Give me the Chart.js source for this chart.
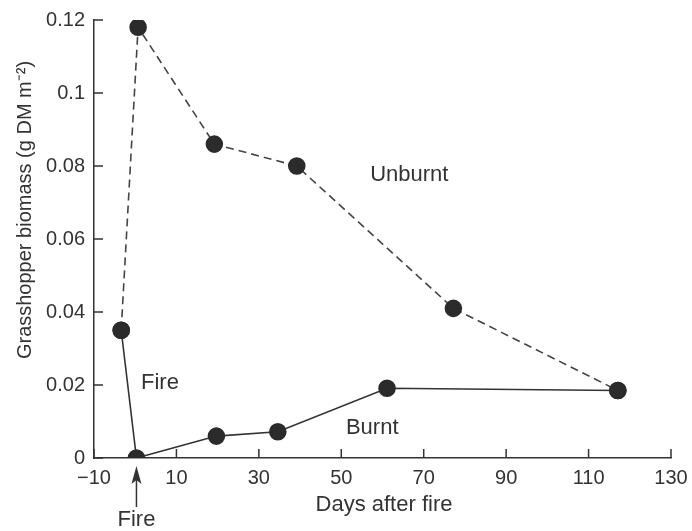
<!DOCTYPE html>
<html>
<head>
<meta charset="utf-8">
<script src="https://cdn.jsdelivr.net/npm/chart.js@4.4.1/dist/chart.umd.min.js"></script>
<style>
  html, body { margin: 0; padding: 0; background: #fff; }
  #wrap { width: 692px; height: 531px; }
</style>
</head>
<body>
<div id="wrap"><canvas id="chart" width="692" height="531"></canvas></div>
<script>
// values (days after fire, g DM m-2)
const unburntDays = [-3.4, 0.7, 19.2, 39.2, 77.2, 117.1];
const unburntBiomass = [0.035, 0.118, 0.086, 0.080, 0.041, 0.0185];
const burntDays = [-3.4, 0.3, 19.7, 34.6, 61.1, 117.1];
const burntBiomass = [0.035, 0, 0.006, 0.0072, 0.0191, 0.0185];
const xTicks = [-10, 10, 30, 50, 70, 90, 110, 130];
const yTicks = [0, 0.02, 0.04, 0.06, 0.08, 0.1, 0.12];
const fireDay = 0.3;

const ink = '#333';
const font = '"Liberation Sans", Arial, sans-serif';

function toPoints(xs, ys) {
    return xs.map((x, i) => ({ x: x, y: ys[i] }));
}

// inward ticks, text labels and the fire arrow
const extras = {
    id: 'extras',
    afterDraw(chart) {
        const ctx = chart.ctx;
        const xs = chart.scales.x;
        const ys = chart.scales.y;
        const area = chart.chartArea;
        ctx.save();
        ctx.strokeStyle = ink;
        ctx.lineWidth = 1.5;
        ctx.beginPath();
        xTicks.forEach(v => {
            const px = xs.getPixelForValue(v);
            ctx.moveTo(px, area.bottom);
            ctx.lineTo(px, area.bottom - 9);
        });
        yTicks.forEach(v => {
            const py = ys.getPixelForValue(v);
            ctx.moveTo(area.left, py);
            ctx.lineTo(area.left + 9, py);
        });
        ctx.stroke();

        ctx.fillStyle = ink;
        ctx.font = '22px ' + font;
        ctx.textAlign = 'center';
        ctx.textBaseline = 'middle';
        ctx.fillText('Unburnt', xs.getPixelForValue(66.5), ys.getPixelForValue(0.0776));
        ctx.fillText('Fire', xs.getPixelForValue(6), ys.getPixelForValue(0.0207));
        ctx.fillText('Burnt', xs.getPixelForValue(57.5), ys.getPixelForValue(0.0082));
        ctx.fillText('Days after fire', 384, 505);

        // fire arrow under the axis
        const fx = xs.getPixelForValue(fireDay);
        ctx.beginPath();
        ctx.moveTo(fx, 507);
        ctx.lineTo(fx, 478);
        ctx.stroke();
        ctx.beginPath();
        ctx.moveTo(fx, 466);
        ctx.lineTo(fx - 5, 484);
        ctx.lineTo(fx, 480);
        ctx.lineTo(fx + 5, 484);
        ctx.closePath();
        ctx.fill();
        ctx.fillText('Fire', fx, 520);

        // y axis title
        ctx.translate(25, 210);
        ctx.rotate(-Math.PI / 2);
        ctx.font = '20px ' + font;
        ctx.fillText('Grasshopper biomass (g DM m\u207B\u00B2)', 0, 0);
        ctx.restore();
    }
};

new Chart(document.getElementById('chart'), {
    type: 'scatter',
    data: {
        datasets: [
            {
                label: 'Unburnt',
                data: toPoints(unburntDays, unburntBiomass),
                showLine: true,
                borderColor: '#444',
                borderWidth: 1.6,
                borderDash: [8, 5],
                pointRadius: 8,
                pointBackgroundColor: '#2b2b2b',
                pointBorderColor: '#2b2b2b'
            },
            {
                label: 'Burnt',
                data: toPoints(burntDays, burntBiomass),
                showLine: true,
                borderColor: '#333',
                borderWidth: 1.6,
                pointRadius: 8,
                pointBackgroundColor: '#2b2b2b',
                pointBorderColor: '#2b2b2b'
            }
        ]
    },
    options: {
        responsive: false,
        animation: false,
        layout: { padding: { left: 0, right: 21, top: 20, bottom: 0 } },
        plugins: {
            legend: { display: false },
            tooltip: { enabled: false }
        },
        scales: {
            x: {
                type: 'linear',
                min: -10,
                max: 130,
                afterFit: s => { s.height = 73; s.paddingLeft = 0; s.paddingRight = 0; },
                afterBuildTicks: s => { s.ticks = xTicks.map(v => ({ value: v })); },
                grid: { display: false },
                border: { display: true, color: ink, width: 1.5 },
                ticks: {
                    color: ink,
                    padding: 0,
                    font: { family: font, size: 20 },
                    maxRotation: 0,
                    callback: v => (v < 0 ? '\u2212' + Math.abs(v) : String(v))
                }
            },
            y: {
                type: 'linear',
                min: 0,
                max: 0.12,
                afterFit: s => { s.width = 94; s.paddingTop = 0; s.paddingBottom = 0; },
                afterBuildTicks: s => { s.ticks = yTicks.map(v => ({ value: v })); },
                grid: { display: false },
                border: { display: true, color: ink, width: 1.5 },
                ticks: {
                    color: ink,
                    padding: 1,
                    font: { family: font, size: 20 },
                    callback: v => String(Math.round(v * 100) / 100)
                }
            }
        }
    },
    plugins: [extras]
});
</script>
</body>
</html>
